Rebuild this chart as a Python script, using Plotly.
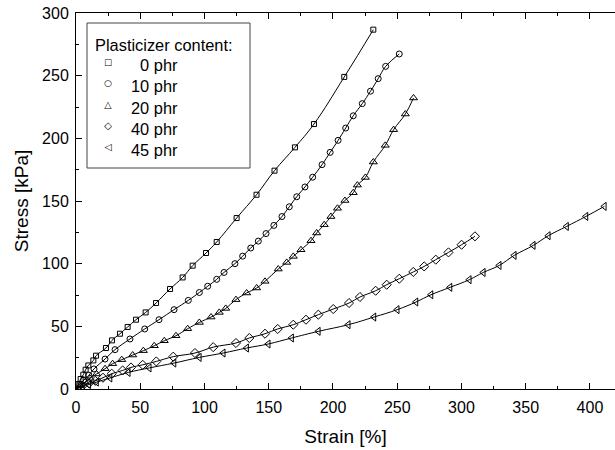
import plotly.graph_objects as go

# ---- data ----
x_0phr = [0, 2, 3.6, 5.7, 7.5, 9.6, 13.5, 15.6, 23.3, 28, 34.2, 40.2, 46.7, 54.2, 62.3, 73.2, 83, 90.8,
          101.2, 109.5, 125, 140.5, 154.5, 170.4, 185.2, 208.8, 231.4]
y_0phr = [0, 4, 8, 11.4, 15.4, 18.8, 22.8, 26.6, 32.7, 38.8, 44.1, 49.5, 55.3, 61.1, 68.6, 79.8, 89, 98.4,
          108.5, 117.3, 136.4, 155, 174.2, 192.8, 211.4, 249, 286.7]

x_10phr = [0, 3, 6, 10, 14, 22.6, 30.4, 42, 53.5, 64.6, 76.3, 87.4, 96, 102.5, 109.5, 115.2, 123.7, 129.7,
           136, 141.9, 147.9, 154, 160.3, 166, 171.8, 178.2, 184.2, 191.5, 197.8, 204, 209.9, 215.8, 222.8,
           229.2, 235.2, 241, 251.6]
y_10phr = [0, 3.5, 7, 11, 16, 23.9, 31.4, 39.9, 47.9, 55.3, 63.3, 70.7, 77, 82, 87.5, 93, 100, 106,
           112.5, 118, 124, 130.5, 137.6, 145.4, 153.4, 161.2, 169, 179, 188.8, 198.4, 208.2, 218, 227.7,
           237.6, 247.6, 257.4, 267.3]

x_20phr = [0, 3, 7, 11, 16, 22.6, 28.5, 35.6, 44.1, 52.4, 60.9, 68.7, 77.8, 86.9, 96, 105.1, 111.5, 116.5,
           124.5, 132.8, 140.6, 147.1, 157.4, 164, 169.1, 175.1, 182.9, 187.3, 193.2, 198.4, 203.5, 209.3,
           215.8, 219, 225.2, 231.4, 240.7, 247.2, 256.3, 262.7]
y_20phr = [0, 2.5, 5.5, 8.5, 12, 16.2, 20.2, 23.4, 27.1, 30.6, 34.5, 38.5, 42.5, 48.1, 53.1, 57.4, 61.1, 64.3,
           71.3, 76.6, 80.6, 85.9, 95.7, 101, 105.8, 111.1, 118.3, 124.5, 131.1, 137.6, 144.2, 150.4,
           156.6, 162.7, 168.8, 181.1, 194.4, 206.9, 219.4, 232.2]

x_40phr = [0, 5, 10, 15, 21, 27.8, 36.3, 42.8, 51.9, 62.5, 75.7, 92.6, 106.8, 124.5, 134.9, 147.1, 157,
           169.1, 179, 188.6, 200.2, 212.5, 221, 233.2, 241.8, 251.6, 262.5, 271, 280, 289.9, 300.1, 310.5]
y_40phr = [0, 2.5, 4.5, 6.5, 9, 12.2, 14.8, 17.2, 19.3, 22, 25.8, 28.7, 33.4, 36.7, 40.7, 44.1, 47.9,
           51.3, 55.3, 59.3, 63.8, 68.6, 73.4, 78.4, 83.2, 88, 93.4, 97.8, 103.2, 109, 115.1, 121.8]

x_45phr = [0, 5, 10, 16, 26.5, 40.7, 57, 76.3, 96, 114.6, 132.8, 149.6, 167.8, 188.6, 211.9, 231.9, 250,
           264.6, 276.3, 291.1, 306.1, 317, 329.4, 341.1, 355.9, 367.6, 381.8, 396.9, 411.2]
y_45phr = [0, 1.8, 3.5, 5.5, 8.8, 13.2, 16.8, 20.7, 25.2, 28.7, 32.7, 35.9, 40.7, 46, 51.3, 57.4, 63.3,
           69.4, 75.2, 81.1, 87.2, 93, 98.6, 106.6, 114.6, 122.3, 129.7, 137.7, 145.7]

legend_title = "Plasticizer content:"
series_names = ["\u20070 phr", "10 phr", "20 phr", "40 phr", "45 phr"]
legend_glyphs = ["\u25A1", "\u25CB", "\u25B3", "\u25C7", "\u25C1"]
series_x = [x_0phr, x_10phr, x_20phr, x_40phr, x_45phr]
series_y = [y_0phr, y_10phr, y_20phr, y_40phr, y_45phr]
symbols = ["square-open", "circle-open", "triangle-up-open", "diamond-open", "triangle-left-open"]
sizes = [5, 6, 7, 7, 7]
glyph_sizes = [8.5, 9, 9.5, 10, 9.5]

x_tick_vals = [0, 50, 100, 150, 200, 250, 300, 350, 400]
y_tick_vals = [0, 50, 100, 150, 200, 250, 300]

FONT = "Liberation Sans, Arial, sans-serif"
LEG_FONT = 16.4

fig = go.Figure()
for xs, ys in zip(series_x, series_y):
    fig.add_trace(go.Scatter(x=xs, y=ys, mode="lines", showlegend=False, hoverinfo="skip",
                             line=dict(color="black", width=1, shape="spline", smoothing=1.2)))
for name, xs, ys, sym, sz in zip(series_names, series_x, series_y, symbols, sizes):
    fig.add_trace(go.Scatter(x=xs[1:], y=ys[1:], mode="markers", name=name, showlegend=False,
                             marker=dict(symbol=sym, size=sz, color="black",
                                         line=dict(color="black", width=1))))

# ---- legend drawn as a framed text block (plot area: x 76..615 px, y 13..389 px) ----
PW, PH, PL, PB = 539.0, 376.0, 76.0, 389.0
def px(xp):
    return (xp - PL) / PW
def py(yp):
    return (PB - yp) / PH

fig.add_shape(type="rect", xref="paper", yref="paper",
              x0=px(87), x1=px(250), y0=py(168), y1=py(23),
              line=dict(color="#444", width=1), fillcolor="white", layer="above")
fig.add_annotation(xref="paper", yref="paper", x=px(93), y=py(45), xanchor="left", yanchor="middle",
                   text=legend_title, showarrow=False, font=dict(size=LEG_FONT, family=FONT))
fig.add_annotation(xref="paper", yref="paper", x=px(129), y=py(107.5), xanchor="left", yanchor="middle",
                   text="<br>".join(series_names), showarrow=False, align="left",
                   font=dict(size=LEG_FONT, family=FONT))
glyph_text = "<br>".join(
    '<span style="font-family:DejaVu Sans;font-size:%spx;fill:#000">%s</span>' % (s, g)
    for g, s in zip(legend_glyphs, glyph_sizes))
fig.add_annotation(xref="paper", yref="paper", x=px(108), y=py(104.5), xanchor="center", yanchor="middle",
                   text=glyph_text, showarrow=False, align="center",
                   font=dict(size=LEG_FONT, family=FONT, color="black"))

fig.update_layout(
    width=615, height=450, autosize=False,
    margin=dict(l=76, r=0, t=13, b=61, autoexpand=False),
    paper_bgcolor="white", plot_bgcolor="white",
    font=dict(family=FONT, color="black", size=16),
    showlegend=False,
)
fig.update_xaxes(
    range=[0, 419.5], tickvals=x_tick_vals, ticks="inside", ticklen=6, tickwidth=1,
    tickcolor="black", showline=True, linecolor="black", linewidth=1, mirror="allticks",
    showgrid=False, zeroline=False, tickfont=dict(size=16), automargin=False, ticklabelstandoff=4,
    minor=dict(dtick=25, tick0=0, ticks="inside", ticklen=3, tickcolor="black", showgrid=False),
    title=dict(text="Strain [%]", font=dict(size=19), standoff=14),
)
fig.update_yaxes(
    range=[0, 300], tickvals=y_tick_vals, ticks="inside", ticklen=6, tickwidth=1,
    tickcolor="black", showline=True, linecolor="black", linewidth=1, automargin=False,
    showgrid=False, zeroline=False, tickfont=dict(size=16), ticklabelstandoff=3,
    minor=dict(dtick=25, tick0=0, ticks="inside", ticklen=3, tickcolor="black", showgrid=False),
    title=dict(text="Stress [kPa]", font=dict(size=19), standoff=8),
)

# remove the default page margin so the figure sits at the window's top-left corner
fig.write_html("out.html", config={"displayModeBar": False},
               post_script="document.body.style.margin='0';document.body.style.overflow='hidden';")
